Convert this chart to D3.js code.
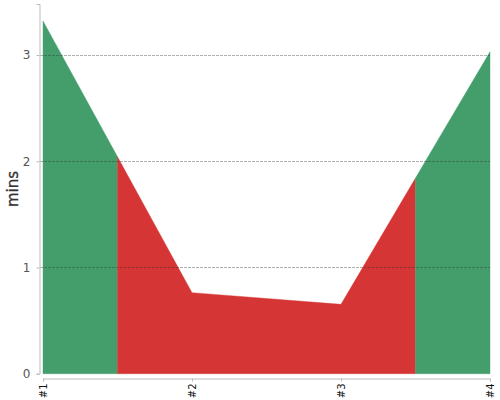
<!DOCTYPE html>
<html><head><meta charset="utf-8">
<script src="https://cdn.jsdelivr.net/npm/d3@7"></script>
<style>body{margin:0;background:#fff}svg{display:block}</style>
</head><body>
<svg id="c" width="500" height="400"></svg>
<script>
const categories = ["#1", "#2", "#3", "#4"];
const values = [3.32, 0.763, 0.653, 3.03];
const colors = ["#439e6c", "#d63535", "#d63535", "#439e6c"];
const yTicks = [0, 1, 2, 3];

const svg = d3.select("#c");
const x = d3.scaleLinear().domain([0, categories.length - 1]).range([43, 490]);
const y = d3.scaleLinear().domain([0, 3.48]).range([373.7, 4]);

function valAt(t) {
  const i = Math.min(Math.floor(t), values.length - 2);
  const f = t - i;
  return values[i] + (values[i + 1] - values[i]) * f;
}

const runs = [];
values.forEach((v, i) => {
  const last = runs[runs.length - 1];
  if (last && last.color === colors[i]) last.idx.push(i);
  else runs.push({ color: colors[i], idx: [i] });
});

const area = d3.area().x(d => x(d[0])).y0(y(0)).y1(d => y(d[1]));
runs.forEach(run => {
  const a = run.idx[0], b = run.idx[run.idx.length - 1];
  const l = Math.max(a - 0.5, 0), r = Math.min(b + 0.5, values.length - 1);
  const pts = [[l, valAt(l)]];
  run.idx.forEach(i => { if (i > l && i < r) pts.push([i, values[i]]); });
  pts.push([r, valAt(r)]);
  svg.append("path").datum(pts).attr("d", area).attr("fill", run.color)
    .attr("stroke", run.color).attr("stroke-width", 0.4);
});

// grid
svg.append("g").selectAll("line").data(yTicks.filter(d => d > 0)).join("line")
  .attr("x1", 40).attr("x2", 490)
  .attr("y1", d => Math.round(y(d)) + 0.5).attr("y2", d => Math.round(y(d)) + 0.5)
  .attr("stroke", "#333").attr("stroke-opacity", 0.55).attr("stroke-dasharray", "3,1").attr("stroke-width", 0.7);

// y axis
const ya = svg.append("g").attr("transform", "translate(39.5,0)")
  .call(d3.axisLeft(y).tickValues(yTicks).tickFormat(d3.format("d")).tickSizeOuter(0).tickSize(3).tickPadding(6));
ya.select(".domain").attr("stroke", "#bbb");
ya.selectAll(".tick line").attr("stroke", "#bbb");
ya.selectAll("text").attr("fill", "#555").attr("font-family", "DejaVu Sans, sans-serif").attr("font-size", 12);

// x axis
const xa = svg.append("g").attr("transform", "translate(0,378.5)")
  .call(d3.axisBottom(x).tickValues(d3.range(categories.length)).tickFormat(i => categories[i]).tickSizeOuter(0).tickSize(3));
xa.select(".domain").attr("stroke", "#bbb");
xa.selectAll(".tick line").attr("stroke", "#bbb");
xa.selectAll("text").attr("fill", "#111").attr("font-family", "DejaVu Sans, sans-serif").attr("font-size", 10)
  .attr("transform", "rotate(-90)").attr("text-anchor", "end").attr("x", -5).attr("y", 0).attr("dy", "0.35em");

svg.append("text").attr("transform", "translate(18,189) rotate(-90)")
  .attr("text-anchor", "middle").attr("font-family", "DejaVu Sans, sans-serif")
  .attr("font-size", 15).attr("fill", "#333").attr("stroke", "#333").attr("stroke-width", 0.3).text("mins");
</script>
</body></html>
